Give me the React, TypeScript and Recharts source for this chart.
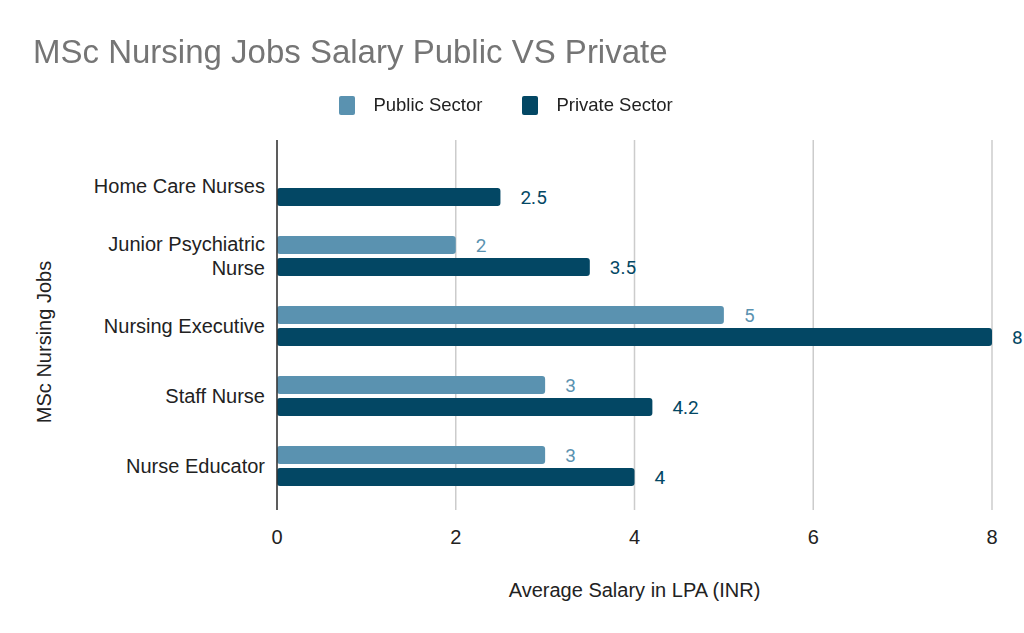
import { BarChart, Bar, XAxis, YAxis, CartesianGrid, Legend, LabelList } from "recharts";

const jobs = ["Home Care Nurses", "Junior Psychiatric Nurse", "Nursing Executive", "Staff Nurse", "Nurse Educator"];
const publicSector = [null, 2, 5, 3, 3];
const privateSector = [2.5, 3.5, 8, 4.2, 4];
const xTicks = [0, 2, 4, 6, 8];
const seriesNames = ["Public Sector", "Private Sector"];

const PUBLIC_COLOR = "#5a92b0";
const PRIVATE_COLOR = "#034764";
const FONT = "'Liberation Sans', Arial, sans-serif";
const LABEL_FONT = "Roboto, sans-serif";

const data = jobs.map((job, i) => ({
  job,
  public: publicSector[i],
  private: privateSector[i],
}));

// wrap a tick label into lines no wider than maxWidth
const wrapLabel = (label: string, maxWidth: number) => {
  const ctx = document.createElement("canvas").getContext("2d")!;
  ctx.font = `20px ${FONT}`;
  const lines: string[] = [];
  let cur = "";
  label.split(" ").forEach((w) => {
    const next = cur ? cur + " " + w : w;
    if (cur && ctx.measureText(next).width > maxWidth) {
      lines.push(cur);
      cur = w;
    } else {
      cur = next;
    }
  });
  if (cur) lines.push(cur);
  return lines;
};

const JobTick = (props: any) => {
  const { x, y, payload } = props;
  const lines = wrapLabel(String(payload.value), 180);
  const lh = 24;
  const start = -((lines.length - 1) * lh) / 2;
  return (
    <text x={x - 4} y={y} textAnchor="end" fill="#222" fontSize={20} fontFamily={FONT}>
      {lines.map((ln, i) => (
        <tspan key={i} x={x - 4} dy={i === 0 ? start + 7 : lh}>
          {ln}
        </tspan>
      ))}
    </text>
  );
};

const LegendBox = (props: any) => {
  const items = [...(props.payload || [])].sort(
    (a: any, b: any) => seriesNames.indexOf(a.value) - seriesNames.indexOf(b.value)
  );
  return (
    <div style={{ display: "flex", justifyContent: "center", fontFamily: FONT, fontSize: 18.5, color: "#222" }}>
      {items.map((it: any, i: number) => (
        <div key={it.value} style={{ display: "flex", alignItems: "center", marginLeft: i === 0 ? 0 : 40 }}>
          <span style={{ width: 16, height: 19, background: it.color, borderRadius: 2, display: "inline-block", marginRight: 18 }} />
          <span>{it.value}</span>
        </div>
      ))}
    </div>
  );
};

const fmt = (v: any) => (v === null || v === undefined ? "" : String(v));

export default function App() {
  return (
    <div style={{ position: "fixed", left: 0, top: 0, width: 1024, height: 633, background: "#fff" }}>
      <BarChart
        width={1024}
        height={633}
        data={data}
        layout="vertical"
        margin={{ top: 140, right: 32, bottom: 33, left: 0 }}
        barSize={18}
        barGap={4}
      >
        <CartesianGrid horizontal={false} stroke="#cccccc" strokeWidth={1.5} />
        <XAxis
          type="number"
          domain={[0, 8]}
          ticks={xTicks}
          axisLine={false}
          tickLine={false}
          height={90}
          tick={{ fontSize: 20, fill: "#222", fontFamily: FONT }}
          tickMargin={14}
          label={{ value: "Average Salary in LPA (INR)", position: "insideBottom", offset: 3, fontSize: 20, fill: "#222", fontFamily: FONT }}
        />
        <YAxis
          type="category"
          dataKey="job"
          width={277}
          padding={{ top: 11, bottom: 9 }}
          axisLine={{ stroke: "#333", strokeWidth: 1.5 }}
          tickLine={false}
          tick={<JobTick />}
          label={{
            content: () => (
              <text
                x={51}
                y={342}
                transform="rotate(-90, 51, 342)"
                textAnchor="middle"
                fontSize={20}
                fill="#222"
                fontFamily={FONT}
              >
                MSc Nursing Jobs
              </text>
            ),
          }}
        />
        <Legend
          verticalAlign="middle"
          align="center"
          content={<LegendBox />}
          wrapperStyle={{ top: 94, left: -6, width: 1024 }}
        />
        <Bar dataKey="public" name="Public Sector" fill={PUBLIC_COLOR} radius={3} isAnimationActive={false}>
          <LabelList dataKey="public" position="right" offset={20} formatter={fmt} fill={PUBLIC_COLOR} fontSize={19} fontFamily={LABEL_FONT} />
        </Bar>
        <Bar dataKey="private" name="Private Sector" fill={PRIVATE_COLOR} radius={3} isAnimationActive={false}>
          <LabelList dataKey="private" position="right" offset={20} formatter={fmt} fill={PRIVATE_COLOR} fontSize={19} fontFamily={LABEL_FONT} />
        </Bar>
      </BarChart>
      <svg width={1024} height={90} style={{ position: "absolute", left: 0, top: 0, pointerEvents: "none" }}>
        <text x={33} y={63} fontSize={33} fill="#757575" fontFamily={FONT}>
          MSc Nursing Jobs Salary Public VS Private
        </text>
      </svg>
    </div>
  );
}
